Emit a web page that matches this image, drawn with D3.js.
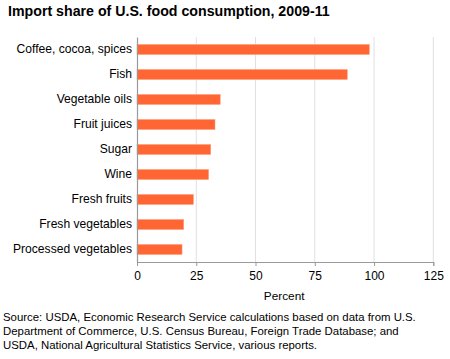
<!DOCTYPE html>
<html><head><meta charset="utf-8">
<script src="https://cdn.jsdelivr.net/npm/d3@7"></script>
<style>body{margin:0;background:#fff;} text{font-family:"Liberation Sans",Arial,Helvetica,sans-serif;}</style>
</head><body>
<svg id="c" width="450" height="359"></svg>
<script>
const categories = ["Coffee, cocoa, spices","Fish","Vegetable oils","Fruit juices","Sugar","Wine","Fresh fruits","Fresh vegetables","Processed vegetables"];
const values = [98, 88.7, 35.1, 32.9, 31.1, 30.2, 23.8, 19.7, 19.0];
const xTicks = [0,25,50,75,100,125];
const title = "Import share of U.S. food consumption, 2009-11";
const xLabel = "Percent";
const sourceLines = ["Source: USDA, Economic Research Service calculations based on data from U.S.","Department of Commerce, U.S. Census Bureau, Foreign Trade Database; and","USDA, National Agricultural Statistics Service, various reports."];

const svg = d3.select("#c");
const m = {left:137, right:433.3, top:37, bottom:262};
const x = d3.scaleLinear().domain([0,125]).range([m.left, m.right]);
const y = d3.scaleBand().domain(categories).range([m.top, m.bottom]).paddingInner(0.6).paddingOuter(0.3);

svg.append("text").attr("x",8).attr("y",15.5).attr("font-size",14.2).attr("font-weight","bold").attr("fill","#000").text(title);

// gridlines
svg.append("g").selectAll("line").data(xTicks.slice(1)).join("line")
  .attr("x1",d=>x(d)).attr("x2",d=>x(d)).attr("y1",m.top).attr("y2",m.bottom)
  .attr("stroke","#e0e0e0").attr("stroke-width",1);

// bars
svg.append("g").selectAll("rect").data(categories).join("rect")
  .attr("x",x(0)).attr("y",d=>y(d)).attr("height",y.bandwidth())
  .attr("width",(d,i)=>x(values[i])-x(0))
  .attr("fill","#ff6633").attr("stroke","#ff9a78").attr("stroke-width",0.5);

// x axis
const xa = svg.append("g").attr("transform",`translate(0,${m.bottom})`)
  .call(d3.axisBottom(x).tickValues(xTicks).tickSize(4).tickPadding(5));
xa.select(".domain").attr("stroke","#999");
xa.selectAll(".tick line").attr("stroke","#999");
xa.selectAll("text").attr("font-size",12).attr("fill","#000").attr("font-family","'Liberation Sans',Arial,sans-serif");

// y axis
const ya = svg.append("g").attr("transform",`translate(${m.left},0)`)
  .call(d3.axisLeft(y).tickSize(0).tickPadding(5));
ya.select(".domain").attr("stroke","#999").attr("stroke-width",1.2);
ya.selectAll("text").attr("font-size",12.1).attr("fill","#000").attr("font-family","'Liberation Sans',Arial,sans-serif");

svg.append("text").attr("x",(x(0)+x(125))/2 - 1).attr("y",299.5).attr("text-anchor","middle")
  .attr("font-size",11.8).attr("fill","#000").text(xLabel);

svg.append("g").selectAll("text").data(sourceLines).join("text")
  .attr("x",3).attr("y",(d,i)=>320.5+i*14).attr("font-size",11.4).attr("fill","#000").text(d=>d);
</script>
</body></html>
